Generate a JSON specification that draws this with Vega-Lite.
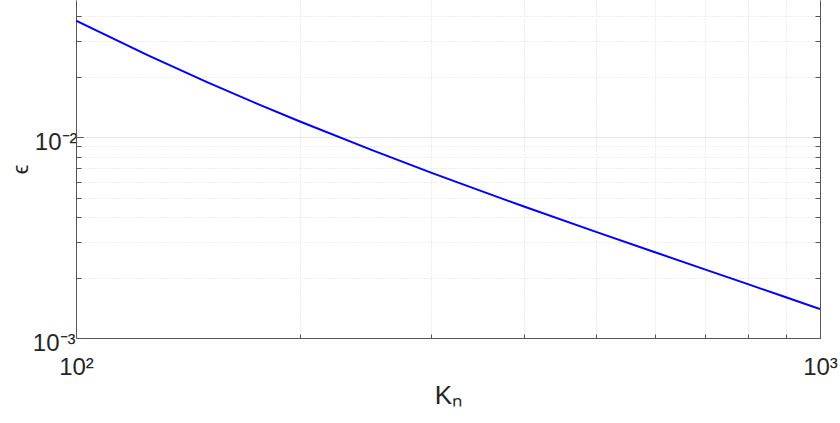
{
  "$schema": "https://vega.github.io/schema/vega-lite/v6.json",
  "width": 744,
  "height": 338,
  "autosize": {"type": "none"},
  "padding": {"left": 76, "top": 0, "right": 20, "bottom": 85},
  "background": "white",
  "config": {"view": {"stroke": null}, "font": "Liberation Sans"},
  "data": {"values": [
    {"Kn": 100, "eps": 0.03802},
    {"Kn": 125, "eps": 0.02553},
    {"Kn": 150, "eps": 0.01880},
    {"Kn": 175, "eps": 0.014693},
    {"Kn": 200, "eps": 0.011966},
    {"Kn": 250, "eps": 0.008615},
    {"Kn": 300, "eps": 0.006663},
    {"Kn": 350, "eps": 0.005399},
    {"Kn": 400, "eps": 0.004518},
    {"Kn": 500, "eps": 0.003377},
    {"Kn": 600, "eps": 0.002674},
    {"Kn": 700, "eps": 0.002197},
    {"Kn": 800, "eps": 0.001854},
    {"Kn": 900, "eps": 0.001595},
    {"Kn": 1000, "eps": 0.001393}
  ]},
  "layer": [
    {
      "mark": {"type": "line", "color": "#0000ff", "strokeWidth": 2, "clip": true},
      "encoding": {
        "x": {
          "field": "Kn", "type": "quantitative",
          "scale": {"type": "log", "domain": [100, 1000], "nice": false},
          "title": "Kₙ",
          "axis": {
            "values": [100, 200, 300, 400, 500, 600, 700, 800, 900, 1000],
            "labelExpr": "datum.value == 100 ? '10²' : (datum.value == 1000 ? '10³' : '')",
            "labelOverlap": false, "labelFlush": false, "labelBound": false,
            "labelFontSize": 24, "labelColor": "#262626", "labelPadding": 21,
            "tickSize": -4, "tickColor": "#555555", "tickWidth": 1,
            "domainColor": "#555555", "domainWidth": 1,
            "grid": true,
            "gridColor": "#dcdcdc",
            "gridDash": [1, 2],
            "gridWidth": 1,
            "titleFontSize": 26, "titleFontWeight": "normal", "titleColor": "#262626",
            "titlePadding": 3
          }
        },
        "y": {
          "field": "eps", "type": "quantitative",
          "scale": {"type": "log", "domain": [0.001, 0.0482], "nice": false},
          "title": "ϵ",
          "axis": {
            "values": [0.001, 0.002, 0.003, 0.004, 0.005, 0.006, 0.007, 0.008, 0.009, 0.01, 0.02, 0.03, 0.04],
            "labelExpr": "datum.value == 0.001 ? '10⁻³' : (datum.value == 0.01 ? '10⁻²' : '')",
            "labelOverlap": false, "labelFlush": false, "labelBound": false,
            "labelFontSize": 24, "labelColor": "#262626", "labelPadding": 6,
            "labelOffset": 5,
            "tickSize": {"condition": {"test": "datum.value == 0.01", "value": -7}, "value": -5},
            "tickColor": "#555555", "tickWidth": 1,
            "domainColor": "#555555", "domainWidth": 1,
            "grid": true,
            "gridColor": {"condition": {"test": "datum.value == 0.01", "value": "#e6e6e6"}, "value": "#dcdcdc"},
            "gridDash": {"condition": {"test": "datum.value == 0.01", "value": []}, "value": [1, 2]},
            "gridWidth": 1,
            "titleFontSize": 22, "titleFontWeight": "normal", "titleColor": "#262626",
            "titlePadding": 0
          }
        }
      }
    },
    {
      "mark": {"type": "line", "opacity": 0},
      "encoding": {
        "x": {"field": "Kn", "type": "quantitative"},
        "y": {
          "field": "eps", "type": "quantitative",
          "axis": {
            "orient": "right",
            "values": [0.001, 0.002, 0.003, 0.004, 0.005, 0.006, 0.007, 0.008, 0.009, 0.01, 0.02, 0.03, 0.04],
            "labels": false, "title": null, "grid": false,
            "tickSize": {"condition": {"test": "datum.value == 0.01", "value": -7}, "value": -5},
            "tickColor": "#555555", "tickWidth": 1,
            "domainColor": "#555555", "domainWidth": 1
          }
        }
      }
    }
  ],
  "resolve": {"axis": {"y": "independent"}}
}
